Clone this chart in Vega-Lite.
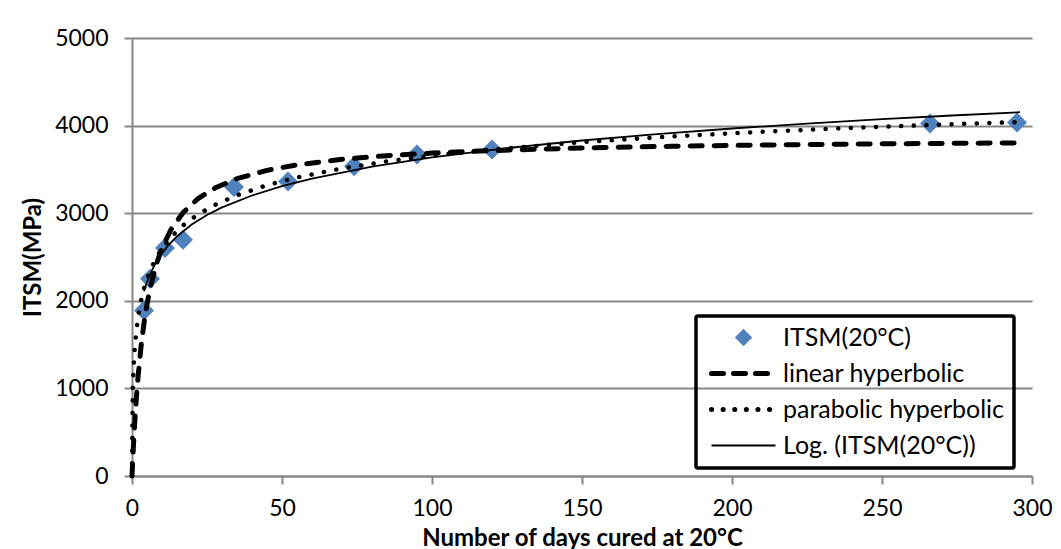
{
  "$schema": "https://vega.github.io/schema/vega-lite/v6.json",
  "autosize": {"type": "none"},
  "padding": {"left": 132, "top": 38, "right": 29, "bottom": 73},
  "width": 900,
  "height": 438,
  "background": "white",
  "config": {
    "font": "Lato",
    "view": {"stroke": null},
    "axis": {
      "domainColor": "#878787",
      "domainWidth": 2,
      "tickColor": "#878787",
      "tickWidth": 2,
      "tickSize": 8,
      "labelFont": "Lato",
      "labelFontSize": 23,
      "labelColor": "black",
      "labelFlush": false,
      "labelOverlap": false,
      "titleFont": "Lato",
      "titleFontSize": 24,
      "titleFontWeight": "bold",
      "titleColor": "black"
    },
    "axisX": {"grid": false, "labelPadding": 13, "titlePadding": 6},
    "axisY": {"grid": true, "gridColor": "#878787", "gridWidth": 2, "labelPadding": 16, "titlePadding": 9}
  },
  "datasets": {
    "points": [
      {"days": 4, "itsm": 1889, "series": "ITSM(20°C)"},
      {"days": 6, "itsm": 2251, "series": "ITSM(20°C)"},
      {"days": 11, "itsm": 2602, "series": "ITSM(20°C)"},
      {"days": 17, "itsm": 2697, "series": "ITSM(20°C)"},
      {"days": 34, "itsm": 3299, "series": "ITSM(20°C)"},
      {"days": 52, "itsm": 3363, "series": "ITSM(20°C)"},
      {"days": 74, "itsm": 3535, "series": "ITSM(20°C)"},
      {"days": 95, "itsm": 3669, "series": "ITSM(20°C)"},
      {"days": 120, "itsm": 3726, "series": "ITSM(20°C)"},
      {"days": 266, "itsm": 4023, "series": "ITSM(20°C)"},
      {"days": 295, "itsm": 4034, "series": "ITSM(20°C)"}
    ],
    "linear": [
      {"days": 0, "itsm": 0, "series": "linear hyperbolic"},
      {"days": 0.5, "itsm": 361, "series": "linear hyperbolic"},
      {"days": 1, "itsm": 660, "series": "linear hyperbolic"},
      {"days": 1.5, "itsm": 912, "series": "linear hyperbolic"},
      {"days": 2, "itsm": 1127, "series": "linear hyperbolic"},
      {"days": 3, "itsm": 1476, "series": "linear hyperbolic"},
      {"days": 4, "itsm": 1745, "series": "linear hyperbolic"},
      {"days": 5, "itsm": 1960, "series": "linear hyperbolic"},
      {"days": 6, "itsm": 2136, "series": "linear hyperbolic"},
      {"days": 8, "itsm": 2405, "series": "linear hyperbolic"},
      {"days": 10, "itsm": 2602, "series": "linear hyperbolic"},
      {"days": 13, "itsm": 2814, "series": "linear hyperbolic"},
      {"days": 17, "itsm": 3006, "series": "linear hyperbolic"},
      {"days": 22, "itsm": 3166, "series": "linear hyperbolic"},
      {"days": 28, "itsm": 3294, "series": "linear hyperbolic"},
      {"days": 35, "itsm": 3394, "series": "linear hyperbolic"},
      {"days": 45, "itsm": 3489, "series": "linear hyperbolic"},
      {"days": 55, "itsm": 3552, "series": "linear hyperbolic"},
      {"days": 70, "itsm": 3615, "series": "linear hyperbolic"},
      {"days": 85, "itsm": 3657, "series": "linear hyperbolic"},
      {"days": 100, "itsm": 3686, "series": "linear hyperbolic"},
      {"days": 120, "itsm": 3715, "series": "linear hyperbolic"},
      {"days": 150, "itsm": 3744, "series": "linear hyperbolic"},
      {"days": 180, "itsm": 3764, "series": "linear hyperbolic"},
      {"days": 210, "itsm": 3778, "series": "linear hyperbolic"},
      {"days": 240, "itsm": 3789, "series": "linear hyperbolic"},
      {"days": 270, "itsm": 3797, "series": "linear hyperbolic"},
      {"days": 296, "itsm": 3803, "series": "linear hyperbolic"}
    ],
    "parabolic": [
      {"days": 0, "itsm": 0, "series": "parabolic hyperbolic"},
      {"days": 0.25, "itsm": 989, "series": "parabolic hyperbolic"},
      {"days": 0.5, "itsm": 1228, "series": "parabolic hyperbolic"},
      {"days": 1, "itsm": 1502, "series": "parabolic hyperbolic"},
      {"days": 2, "itsm": 1809, "series": "parabolic hyperbolic"},
      {"days": 3, "itsm": 2000, "series": "parabolic hyperbolic"},
      {"days": 4, "itsm": 2140, "series": "parabolic hyperbolic"},
      {"days": 6, "itsm": 2341, "series": "parabolic hyperbolic"},
      {"days": 8, "itsm": 2485, "series": "parabolic hyperbolic"},
      {"days": 10, "itsm": 2597, "series": "parabolic hyperbolic"},
      {"days": 13, "itsm": 2727, "series": "parabolic hyperbolic"},
      {"days": 17, "itsm": 2860, "series": "parabolic hyperbolic"},
      {"days": 22, "itsm": 2986, "series": "parabolic hyperbolic"},
      {"days": 28, "itsm": 3101, "series": "parabolic hyperbolic"},
      {"days": 35, "itsm": 3205, "series": "parabolic hyperbolic"},
      {"days": 45, "itsm": 3320, "series": "parabolic hyperbolic"},
      {"days": 55, "itsm": 3408, "series": "parabolic hyperbolic"},
      {"days": 70, "itsm": 3511, "series": "parabolic hyperbolic"},
      {"days": 85, "itsm": 3592, "series": "parabolic hyperbolic"},
      {"days": 100, "itsm": 3657, "series": "parabolic hyperbolic"},
      {"days": 120, "itsm": 3727, "series": "parabolic hyperbolic"},
      {"days": 150, "itsm": 3811, "series": "parabolic hyperbolic"},
      {"days": 180, "itsm": 3876, "series": "parabolic hyperbolic"},
      {"days": 210, "itsm": 3929, "series": "parabolic hyperbolic"},
      {"days": 240, "itsm": 3974, "series": "parabolic hyperbolic"},
      {"days": 270, "itsm": 4012, "series": "parabolic hyperbolic"},
      {"days": 296, "itsm": 4041, "series": "parabolic hyperbolic"}
    ],
    "logfit": [
      {"days": 4, "itsm": 2108, "series": "Log. (ITSM(20°C))"},
      {"days": 5, "itsm": 2214, "series": "Log. (ITSM(20°C))"},
      {"days": 6, "itsm": 2301, "series": "Log. (ITSM(20°C))"},
      {"days": 8, "itsm": 2438, "series": "Log. (ITSM(20°C))"},
      {"days": 10, "itsm": 2544, "series": "Log. (ITSM(20°C))"},
      {"days": 12, "itsm": 2630, "series": "Log. (ITSM(20°C))"},
      {"days": 15, "itsm": 2736, "series": "Log. (ITSM(20°C))"},
      {"days": 20, "itsm": 2873, "series": "Log. (ITSM(20°C))"},
      {"days": 25, "itsm": 2979, "series": "Log. (ITSM(20°C))"},
      {"days": 30, "itsm": 3066, "series": "Log. (ITSM(20°C))"},
      {"days": 40, "itsm": 3202, "series": "Log. (ITSM(20°C))"},
      {"days": 50, "itsm": 3308, "series": "Log. (ITSM(20°C))"},
      {"days": 60, "itsm": 3395, "series": "Log. (ITSM(20°C))"},
      {"days": 80, "itsm": 3531, "series": "Log. (ITSM(20°C))"},
      {"days": 100, "itsm": 3637, "series": "Log. (ITSM(20°C))"},
      {"days": 125, "itsm": 3743, "series": "Log. (ITSM(20°C))"},
      {"days": 150, "itsm": 3830, "series": "Log. (ITSM(20°C))"},
      {"days": 175, "itsm": 3903, "series": "Log. (ITSM(20°C))"},
      {"days": 200, "itsm": 3967, "series": "Log. (ITSM(20°C))"},
      {"days": 225, "itsm": 4023, "series": "Log. (ITSM(20°C))"},
      {"days": 250, "itsm": 4073, "series": "Log. (ITSM(20°C))"},
      {"days": 275, "itsm": 4118, "series": "Log. (ITSM(20°C))"},
      {"days": 296, "itsm": 4153, "series": "Log. (ITSM(20°C))"}
    ]
  },
  "encoding": {
    "x": {
      "field": "days",
      "type": "quantitative",
      "scale": {"domain": [0, 300], "nice": false, "zero": true},
      "axis": {"values": [0, 50, 100, 150, 200, 250, 300], "format": "d", "title": "Number of days cured at 20°C"}
    },
    "y": {
      "field": "itsm",
      "type": "quantitative",
      "scale": {"domain": [0, 5000], "nice": false},
      "axis": {"values": [0, 1000, 2000, 3000, 4000, 5000], "format": "d", "title": "ITSM(MPa)"}
    },
    "color": {
      "field": "series",
      "type": "nominal",
      "scale": {
        "domain": ["ITSM(20°C)", "linear hyperbolic", "parabolic hyperbolic", "Log. (ITSM(20°C))"],
        "range": ["#4F81BD", "black", "black", "black"]
      },
      "legend": {
        "orient": "none",
        "legendX": 564,
        "legendY": 278,
        "title": null,
        "labelFont": "Lato",
        "labelFontSize": 25,
        "labelColor": "black",
        "labelLimit": 400,
        "labelOffset": 27,
        "symbolOffset": 26,
        "strokeColor": "black",
        "padding": 9,
        "rowPadding": 10,
        "symbolSize": 4096,
        "symbolStrokeWidth": 4,
        "symbolType": "stroke",
        "encode": {
          "legend": {"update": {"strokeWidth": {"value": 3.5}, "cornerRadius": {"value": 2}}},
          "symbols": {
            "update": {
              "shape": {"signal": "datum.value === 'ITSM(20°C)' ? 'diamond' : 'stroke'"},
              "size": {"signal": "datum.value === 'ITSM(20°C)' ? 300 : 4096"},
              "fill": {"signal": "datum.value === 'ITSM(20°C)' ? '#4F81BD' : 'transparent'"},
              "stroke": {"signal": "datum.value === 'ITSM(20°C)' ? '#4F81BD' : 'black'"},
              "strokeWidth": {"signal": "datum.value === 'ITSM(20°C)' ? 0 : (datum.value === 'Log. (ITSM(20°C))' ? 1.8 : 5)"},
              "strokeDash": {"signal": "datum.value === 'linear hyperbolic' ? [12, 10] : (datum.value === 'parabolic hyperbolic' ? [0.1, 11.5] : [1, 0])"},
              "strokeCap": {"signal": "datum.value === 'Log. (ITSM(20°C))' ? 'butt' : 'round'"}
            }
          }
        }
      }
    }
  },
  "layer": [
    {
      "data": {"name": "points"},
      "mark": {"type": "point", "shape": "diamond", "filled": true, "size": 400, "opacity": 1}
    },
    {
      "data": {"name": "linear"},
      "mark": {"type": "line", "strokeWidth": 5, "strokeDash": [12, 12], "strokeCap": "round", "strokeJoin": "round"}
    },
    {
      "data": {"name": "parabolic"},
      "mark": {"type": "line", "strokeWidth": 4.5, "strokeDash": [0.1, 12.5], "strokeCap": "round", "strokeJoin": "round"}
    },
    {
      "data": {"name": "logfit"},
      "mark": {"type": "line", "strokeWidth": 1.8}
    }
  ]
}
